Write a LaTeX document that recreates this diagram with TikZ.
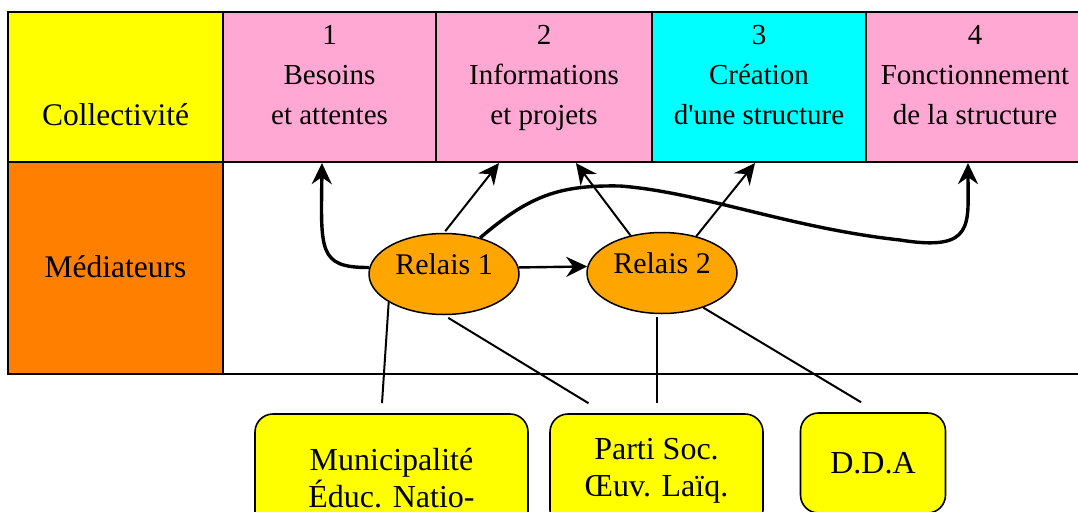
\documentclass[tikz,border=0pt]{standalone}
\usepackage{fontspec}
\setmainfont{Liberation Serif}
\usetikzlibrary{arrows.meta,shapes.geometric,calc}
\definecolor{cyel}{HTML}{FFFF00}
\definecolor{corg}{HTML}{FF7F00}
\definecolor{cpink}{HTML}{FFA8D4}
\definecolor{ccyan}{HTML}{00FFFF}
\definecolor{crel}{HTML}{FFA500}
\begin{document}
\begin{tikzpicture}[x=1pt,y=-1pt,
  cell/.style={draw,line width=2.2pt,inner sep=0pt,minimum height=150pt},
  lowcell/.style={draw,line width=2.2pt,inner sep=0pt,minimum height=212pt},
  hdr/.style={align=center,inner sep=0pt,font=\fontsize{29}{40}\selectfont},
  side/.style={inner sep=0pt,font=\fontsize{31.5}{38}\selectfont},
  relais/.style={ellipse,draw,line width=1.5pt,fill=crel,inner sep=0pt,
    minimum width=150pt,minimum height=81pt,text height=10pt,text depth=10pt,
    font=\fontsize{30}{36}\selectfont},
  actor/.style={draw,line width=1.6pt,fill=cyel,rounded corners=18pt,align=center,
    inner sep=0pt,font=\fontsize{32}{36.5}\selectfont},
  arr/.style={-{Stealth[length=21pt,width=20pt,inset=7pt]},line width=2pt},
  thickarr/.style={-{Stealth[length=21pt,width=20pt,inset=7pt]},line width=3.4pt},
  link/.style={line width=2pt}]
\useasboundingbox (0,0) rectangle (1078,511);
\clip (0,0) rectangle (1078,511);
% table
\node[lowcell,fill=white,minimum width=861pt] (m1) at (653.5,268) {};
\node[lowcell,fill=corg,minimum width=215pt] (m0) at (115.5,268) {};
\node[cell,fill=cyel,minimum width=215pt] (c0) at (115.5,87) {};
\node[cell,fill=cpink,minimum width=213pt] (c1) at (329.5,87) {};
\node[cell,fill=cpink,minimum width=216pt] (c2) at (544,87) {};
\node[cell,fill=ccyan,minimum width=214pt] (c3) at (759,87) {};
\node[cell,fill=cpink,minimum width=218pt] (c4) at (975,87) {};
% texts
\node[side,anchor=base] (t0) at (115.5,125) {Collectivité};
\node[side,anchor=base] (tm) at (115.5,277) {Médiateurs};
\node[hdr,anchor=base] (t1) at (329.5,124.5) {1\\Besoins\\et attentes};
\node[hdr,anchor=base] (t2) at (544,124.5) {2\\Informations\\et projets};
\node[hdr,anchor=base] (t3) at (759,124.5) {3\\Création\\d\textquotesingle une structure};
\node[hdr,anchor=base] (t4) at (975,124.5) {4\\Fonctionnement\\de la structure};
% relais
\node[relais] (r1) at (444,274) {Relais 1};
\node[relais] (r2) at (662,273) {Relais 2};
% actors
\node[actor,minimum width=273pt,minimum height=128pt] (b1) at (391.5,478) {Municipalité\\Éduc. Natio-};
\node[actor,minimum width=213pt,minimum height=114pt] (b2) at (656.5,471) {Parti Soc.\\Œuv. Laïq.};
\node[actor,minimum width=145pt,minimum height=100pt] (b3) at (873,463) {D.D.A};
% arrows
\draw[thickarr] (r1.175) .. controls (318,268) and (321,250) .. ($(c1.south)+(-7.5,0)$);
\draw[arr,shorten <=2pt] (r1.north) -- ($(c2.south)+(-45,0)$);
\draw[thickarr] (r1.45) .. controls (530,195) and (560,185) .. (620,186)
  .. controls (700,192) and (790,228) .. (900,240)
  .. controls (975,252) and (968,225) .. ($(c4.south)+(-7,0)$);
\draw[arr] (r2.130) -- ($(c2.south)+(32,0)$);
\draw[arr] (r2.47) -- ($(c3.south)+(-4,0)$);
\draw[arr,line width=2.4pt] (r1.5) -- (r2.175);
% links
\draw[link] (r1.207) -- ($(b1.north)+(-9.5,-10)$);
\draw[link,shorten <=5pt] (r1.south) -- ($(b2.north)+(-68,-10)$);
\draw[link,shorten <=3pt] (r2.south -| b2.north) -- ($(b2.north)+(0,-10)$);
\draw[link] (r2.-40) -- ($(b3.north)+(-12,-10)$);
\end{tikzpicture}
\end{document}
